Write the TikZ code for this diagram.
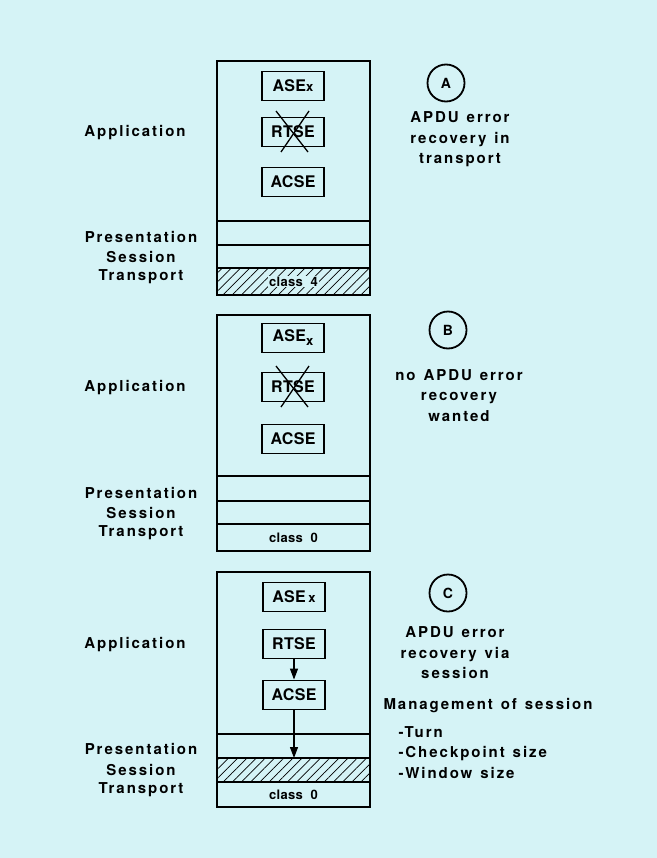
\documentclass[tikz,border=0pt]{standalone}
\usepackage{fontspec}
\usepackage{tikz}
\usetikzlibrary{arrows.meta,patterns.meta}

\newfontfamily\lblfont{TeX Gyre Heros}[LetterSpace=13,WordSpace=1.3]
\newfontfamily\protofont{TeX Gyre Heros}[LetterSpace=2]

\definecolor{bgblue}{RGB}{213,243,246}

\tikzset{
    stack/.style={line width=1.9bp},
    hatch/.style={pattern={Lines[angle=45,distance=6.5bp,line width=0.7bp]}},
    proto/.style={draw, line width=1.9bp, minimum width=62bp, minimum height=29bp,
        inner sep=0pt, font=\protofont\bfseries\fontsize{16bp}{18bp}\selectfont},
    strike/.style={line width=1.3bp},
    flow/.style={line width=1.2bp, -{Triangle[length=11bp,width=8bp]}},
    lbl/.style={font=\lblfont\bfseries\fontsize{15bp}{20.5bp}\selectfont, align=center},
    cls/.style={fill=bgblue, inner sep=1bp, font=\protofont\bfseries\fontsize{13bp}{15bp}\selectfont},
    tag/.style={draw, circle, line width=1.8bp, minimum size=37bp, inner sep=0pt,
        font=\protofont\bfseries\fontsize{14bp}{16bp}\selectfont}
}

\begin{document}
\begin{tikzpicture}[x=1bp,y=-1bp]
            \fill[bgblue] (0,0) rectangle (657,858);
            \useasboundingbox (0,0) rectangle (657,858);

            % A
            \draw[stack] (217,61) rectangle (370,295);
            \draw[stack] (217,221) -- (370,221);
            \draw[stack] (217,245) -- (370,245);
            \draw[stack,hatch] (217,268) rectangle (370,295);
            \node[cls] (clsA) at (293.5,281.5) {class\ \ 4};

            \node[proto] (asexA) at (293,86) {ASE{\fontsize{13bp}{13bp}\selectfont x}};
            \node[proto] (rtseA) at (293,132) {RTSE};
            \node[proto] (acseA) at (293,182) {ACSE};
            \draw[strike] (rtseA.center) ++(-17,-21) -- ++(32,41);
            \draw[strike] (rtseA.center) ++(16,-21) -- ++(-28,41);

            \node[lbl] (appA) at (135,133) {Application};
            \node[lbl] (presA) at (141,237) {Presentation};
            \node[lbl] (sessA) at (141,257) {Session};
            \node[lbl] (transA) at (141,277) {Transport};

            \node[tag] (tagA) at (446,83) {A};
            \node[lbl] (noteA) at (460,139.5) {APDU error\\recovery in\\transport};

            % B
            \draw[stack] (217,315) rectangle (370,551);
            \draw[stack] (217,476) -- (370,476);
            \draw[stack] (217,501) -- (370,501);
            \draw[stack] (217,524) -- (370,524);
            \node[cls] (clsB) at (293.5,537.5) {class\ \ 0};

            \node[proto] (asexB) at (293,338) {ASE\raisebox{-0.45ex}{\fontsize{13bp}{13bp}\selectfont x}};
            \node[proto] (rtseB) at (293,387) {RTSE};
            \node[proto] (acseB) at (293,439) {ACSE};
            \draw[strike] (rtseB.center) ++(-17,-21) -- ++(32,41);
            \draw[strike] (rtseB.center) ++(16,-21) -- ++(-28,41);

            \node[lbl] (appB) at (135,388) {Application};
            \node[lbl] (presB) at (141,493) {Presentation};
            \node[lbl] (sessB) at (141,513) {Session};
            \node[lbl] (transB) at (141,533) {Transport};

            \node[tag] (tagB) at (448,330) {B};
            \node[lbl] (noteB) at (459,395.5) {no APDU error\\recovery\\wanted};

            % C
            \draw[stack] (217,572) rectangle (370,807);
            \draw[stack] (217,734) -- (370,734);
            \draw[stack,hatch] (217,758) rectangle (370,782);
            \node[cls] (clsC) at (293.5,794.5) {class\ \ 0};

            \node[proto] (asexC) at (294,597) {ASE\,{\fontsize{13bp}{13bp}\selectfont x}};
            \node[proto] (rtseC) at (294,644) {RTSE};
            \node[proto] (acseC) at (294,695) {ACSE};
            \coordinate (sessC) at (294,758);
            \draw[flow] (rtseC) -- (acseC);
            \draw[flow] (acseC) -- (sessC);

            \node[lbl] (appC) at (135,645) {Application};
            \node[lbl] (presC) at (141,749) {Presentation};
            \node[lbl] (sessCl) at (141,770) {Session};
            \node[lbl] (transC) at (141,790) {Transport};

            \node[tag] (tagC) at (448,593) {C};
            \node[lbl] (noteC) at (455,653) {APDU error\\recovery via\\session};
            \node[lbl] (mgmt) at (488,706) {Management of session};
            \node[lbl, anchor=west, align=left] (items) at (395,752.5) {-Turn\\-Checkpoint size\\-Window size};

        \end{tikzpicture}
\end{document}
